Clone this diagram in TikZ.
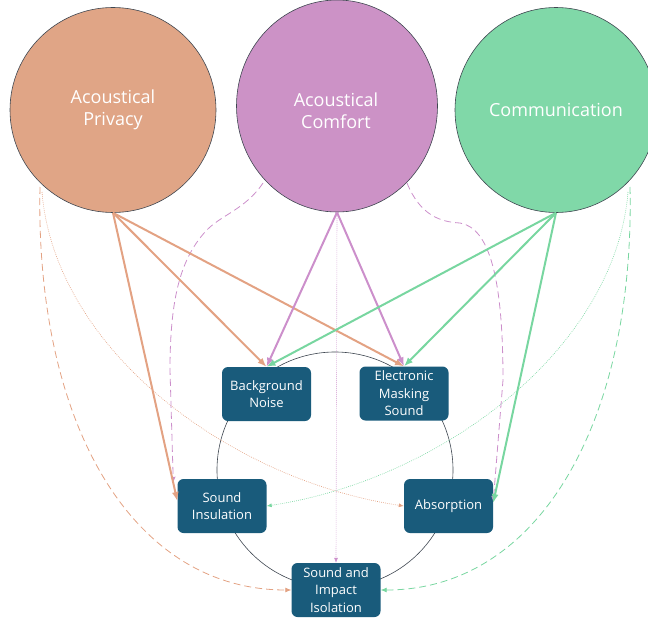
\documentclass[tikz,border=0pt]{standalone}
\usepackage{fontspec}
\setmainfont{Open Sans}
\usetikzlibrary{arrows.meta,shapes.geometric}
\definecolor{privfill}{HTML}{E0A586}
\definecolor{comffill}{HTML}{CC92C6}
\definecolor{commfill}{HTML}{80D8A8}
\definecolor{privline}{HTML}{E3A283}
\definecolor{comfline}{HTML}{CC8FCB}
\definecolor{commline}{HTML}{78D6A0}
\definecolor{boxfill}{HTML}{195B7B}
\definecolor{ringcol}{HTML}{3E4650}
\tikzset{
  bigcirc/.style={draw=ringcol, line width=0.6pt, ellipse, inner sep=0pt, text=white,
    align=center, font=\fontsize{18}{22}\selectfont},
  topicbox/.style={draw=none, fill=boxfill, rounded corners=6pt, text=white, align=center,
    minimum width=89pt, minimum height=54pt, inner sep=1pt, font=\fontsize{13}{17.5}\selectfont},
  strong/.style={line width=2pt, -{Latex[length=9pt,width=7pt]}},
  dashline/.style={line width=0.8pt, dash pattern=on 7pt off 4pt, -{Latex[length=6pt,width=5pt]}},
  dotline/.style={line width=0.6pt, dash pattern=on 0.8pt off 1.2pt, -{Latex[length=5pt,width=4pt]}},
}
\begin{document}
\begin{tikzpicture}[x=1pt,y=-1pt]
\useasboundingbox (0,0) rectangle (648,618);
% top circles
\node[bigcirc, fill=privfill, minimum width=206pt, minimum height=205pt] (P) at (113,110) {Acoustical\\Privacy};
\node[bigcirc, fill=comffill, minimum width=201pt, minimum height=212pt] (C) at (337,106) {};
\node[text=white, align=center, font=\fontsize{18}{22}\selectfont] (Ct) at (336,111) {Acoustical\\Comfort};
\node[bigcirc, fill=commfill, minimum width=202pt, minimum height=205pt] (G) at (556,110) {Communication};
% ring
\node[draw=ringcol, line width=0.6pt, circle, minimum size=236pt, inner sep=0pt] (ring) at (335,470) {};
% boxes
\node[topicbox] (bn) at (266.5,394) {Background\\Noise};
\node[topicbox] (em) at (404,393.5) {Electronic\\Masking\\Sound};
\node[topicbox] (si) at (222,506) {Sound\\Insulation};
\node[topicbox] (ab) at (448.5,506) {Absorption};
\node[topicbox] (sii) at (336,590) {Sound and\\Impact\\Isolation};
% coordinates on the circle edges
\coordinate (pL) at (40,187);
\coordinate (pL2) at (42,192);
\coordinate (gR) at (630,187);
\coordinate (gR2) at (628,192);
\coordinate (cL) at (263,183);
\coordinate (cR) at (407,183);
% dashed / dotted
\draw[dashline, privline] (pL) .. controls (35,420) and (130,590) .. (sii.west);
\draw[dashline, commline] (gR) .. controls (635,420) and (540,590) .. (sii.east);
\draw[dotline, privline] (pL2) .. controls (55,350) and (230,480) .. (ab.west);
\draw[dotline, commline] (gR2) .. controls (615,350) and (440,480) .. (si.east);
\draw[dotline, comfline] (C.south) -- (sii.north);
\draw[dashline, comfline] (cL) .. controls (245,210) and (220,215) .. (205,232)
   .. controls (180,260) and (170,300) .. (170,370) -- ([xshift=-4pt,yshift=-4pt]si.north west);
\draw[dashline, comfline] (cR) .. controls (420,215) and (440,222) .. (460,223)
   .. controls (490,228) and (503,280) .. (503,380) -- ([yshift=4pt]ab.east);
% strong arrows
\draw[strong, privline] (P.south) -- (bn.north);
\draw[strong, privline] (P.south) -- (em.north);
\draw[strong, privline] (P.south) -- ([yshift=5pt]si.west);
\draw[strong, comfline] (C.south) -- (bn.north);
\draw[strong, comfline] (C.south) -- (em.north);
\draw[strong, commline] (G.south) -- (bn.north);
\draw[strong, commline] (G.south) -- (em.north);
\draw[strong, commline] (G.south) -- ([yshift=3pt]ab.east);
\end{tikzpicture}
\end{document}
